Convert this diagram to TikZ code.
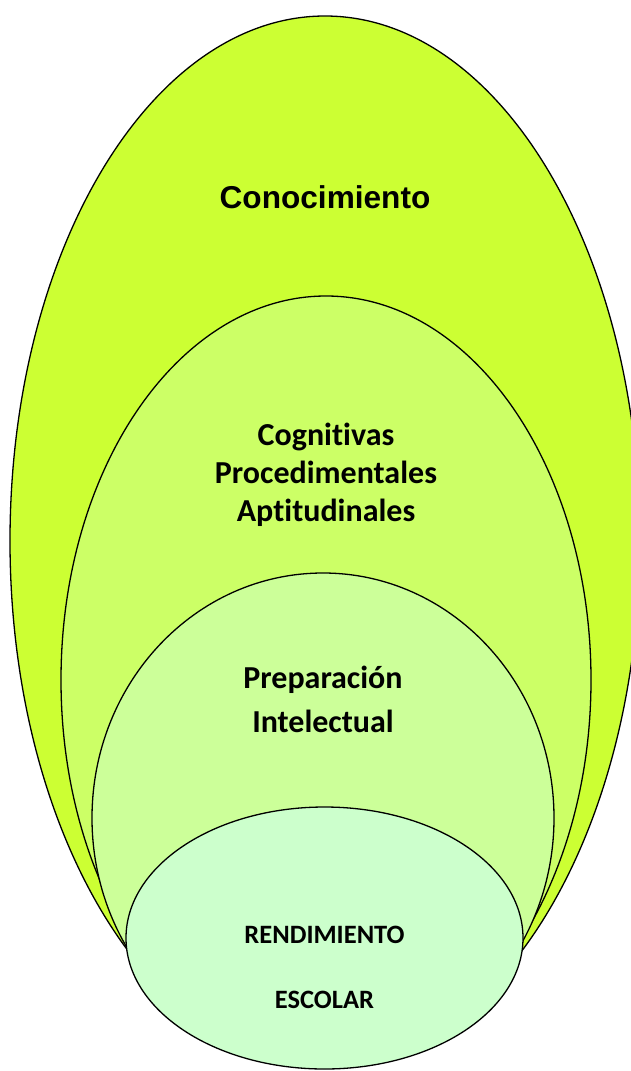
\documentclass[tikz,border=0pt]{standalone}
\usepackage{fontspec}
\setmainfont[Ligatures=NoCommon]{Carlito}
\newfontfamily\arialf{Liberation Sans}
\usetikzlibrary{shapes.geometric}
\definecolor{cA}{HTML}{CCFF33}
\definecolor{cB}{HTML}{CCFF66}
\definecolor{cC}{HTML}{CCFF99}
\definecolor{cD}{HTML}{CCFFCC}
\tikzset{
  oval/.style={ellipse, draw=black, line width=1.3pt, inner sep=0pt},
  lbl/.style={align=center, font=\bfseries, text=black, inner sep=0pt}
}
\begin{document}
\begin{tikzpicture}[x=1pt,y=-1pt]
\useasboundingbox (0,0) rectangle (631,1071);
\clip (0,0) rectangle (631,1071);
\node[oval, fill=cA, minimum width=630pt, minimum height=1050pt] (e1) at (325,541) {};
\node[oval, fill=cB, minimum width=530pt, minimum height=768pt] (e2) at (326,680) {};
\node[oval, fill=cC, minimum width=462pt, minimum height=490pt] (e3) at (323,818) {};
\node[oval, fill=cD, minimum width=397pt, minimum height=262pt] (e4) at (324.5,938) {};
\node[lbl, font=\arialf\bfseries\fontsize{31.6pt}{36pt}\selectfont] (t1) at (325,197) {Conocimiento};
\node[lbl, font=\bfseries\fontsize{32pt}{38pt}\selectfont] (t2) at (326,475) {Cognitivas\\Procedimentales\\Aptitudinales};
\node[lbl, font=\bfseries\fontsize{32pt}{44pt}\selectfont] (t3) at (323,699) {Preparación\\Intelectual};
\node[lbl, font=\bfseries\fontsize{26.5pt}{65pt}\selectfont] (t4) at (324.5,967) {RENDIMIENTO\\ESCOLAR};
\end{tikzpicture}
\end{document}
